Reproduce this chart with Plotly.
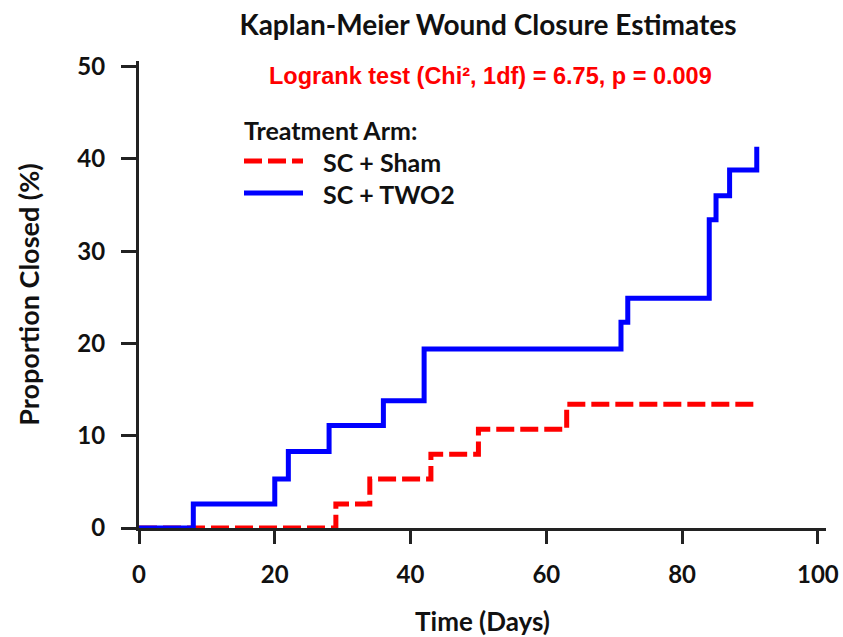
import plotly.graph_objects as go

# ---- data ----
sham_days = [0, 29, 34, 43, 50, 63, 91]
sham_closed = [0, 2.6, 5.3, 8.0, 10.7, 13.4, 13.4]

two2_days = [0, 8, 20, 22, 28, 36, 42, 71, 72, 84, 85, 87, 91]
two2_closed = [0, 2.6, 5.3, 8.3, 11.1, 13.8, 19.4, 22.3, 24.9, 33.4, 36.0, 38.8, 41.3]

x_ticks = [0, 20, 40, 60, 80, 100]
y_ticks = [0, 10, 20, 30, 40, 50]

series_names = ["SC + Sham", "SC + TWO2"]
title_text = "Kaplan-Meier Wound Closure Estimates"
test_text = "Logrank test (Chi², 1df) = 6.75, p = 0.009"
legend_title = "Treatment Arm:"

# ---- layout geometry (body margin removed via post_script) ----
W, H = 843, 637
ML, MR, MT, MB = 139, 17, 61, 109
PW = W - ML - MR
PH = H - MT - MB

def px(x):
    return (x - ML) / PW

def py(y):
    return (H - MB - y) / PH

RED = "#ff0000"
BLUE = "#0000ff"
AX = "#222222"
FONT = "Lato"

fig = go.Figure()
fig.add_trace(go.Scatter(
    x=sham_days, y=sham_closed, mode="lines", line_shape="hv",
    name=series_names[0],
    line=dict(color=RED, width=5, dash="18px,6px"),
    showlegend=False,
))
fig.add_trace(go.Scatter(
    x=two2_days, y=two2_closed, mode="lines", line_shape="hv",
    name=series_names[1],
    line=dict(color=BLUE, width=5),
    showlegend=False,
))

axis_common = dict(
    showline=True, linecolor=AX, linewidth=3,
    ticks="outside", tickwidth=3, tickcolor=AX,
    showgrid=False, zeroline=False, automargin=False,
    tickfont=dict(family=FONT, size=24, color="#111", weight="bold"),
)

fig.update_xaxes(
    range=[0, 101.2], tickvals=x_ticks, ticktext=[str(v) for v in x_ticks],
    ticklen=13, ticklabelstandoff=10,
    title=dict(text="Time (Days)", font=dict(family=FONT, size=26, color="#111", weight="bold"),
               standoff=29),
    **axis_common,
)
fig.update_yaxes(
    range=[0, 50.6], tickvals=y_ticks, ticktext=[str(v) for v in y_ticks],
    ticklen=15, ticklabelstandoff=11,
    title=dict(text="Proportion Closed (%)", font=dict(family=FONT, size=27, color="#111", weight="bold"),
               standoff=30),
    **axis_common,
)

# manual legend
shapes = [
    dict(type="line", xref="paper", yref="paper",
         x0=px(244), x1=px(303), y0=py(161), y1=py(161),
         line=dict(color=RED, width=5, dash="18px,6px")),
    dict(type="line", xref="paper", yref="paper",
         x0=px(244), x1=px(303), y0=py(193), y1=py(193),
         line=dict(color=BLUE, width=5)),
]
annotations = [
    dict(text=test_text, xref="paper", yref="paper", x=px(490), y=py(76),
         xanchor="center", yanchor="middle", showarrow=False,
         font=dict(family="Liberation Sans", size=23.5, color=RED, weight="bold")),
    dict(text=legend_title, xref="paper", yref="paper", x=px(242), y=py(130),
         xanchor="left", yanchor="middle", showarrow=False,
         font=dict(family=FONT, size=25, color="#111", weight="bold")),
    dict(text=series_names[0], xref="paper", yref="paper", x=px(321), y=py(162),
         xanchor="left", yanchor="middle", showarrow=False,
         font=dict(family=FONT, size=25, color="#111", weight="bold")),
    dict(text=series_names[1], xref="paper", yref="paper", x=px(321), y=py(194),
         xanchor="left", yanchor="middle", showarrow=False,
         font=dict(family=FONT, size=25, color="#111", weight="bold")),
]

fig.update_layout(
    width=W, height=H, autosize=False,
    margin=dict(l=ML, r=MR, t=MT, b=MB),
    paper_bgcolor="white", plot_bgcolor="white",
    title=dict(text=title_text, x=488 / W, xanchor="center",
               y=1 - 25 / H, yanchor="middle", yref="container",
               font=dict(family=FONT, size=28, color="#111", weight="bold")),
    shapes=shapes, annotations=annotations,
    showlegend=False,
)

fig.write_html(
    "out.html",
    config={"displayModeBar": False},
    post_script="document.body.style.margin='0';document.body.style.overflow='hidden';",
)
